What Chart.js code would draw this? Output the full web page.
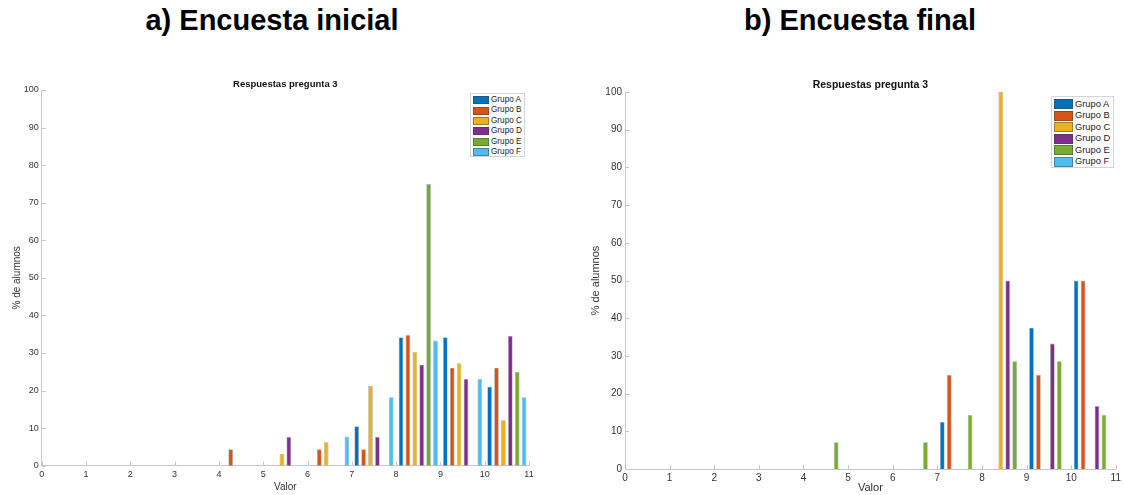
<!DOCTYPE html>
<html>
<head>
<meta charset="utf-8">
<script src="https://cdn.jsdelivr.net/npm/chart.js@4.4.1/dist/chart.umd.min.js"></script>
<style>
  html, body { margin:0; padding:0; background:#fff; }
  body { width:1124px; height:495px; position:relative; overflow:hidden; font-family:"Liberation Sans", Arial, sans-serif; }
  canvas { position:absolute; top:0; }
  .big { position:absolute; top:4px; font-weight:bold; font-size:29px; color:#000; text-align:center; white-space:nowrap; }
  .leg { position:absolute; background:#fff; border:1px solid #d4d4d4; box-sizing:border-box; color:#222; overflow:hidden; }
  .leg div { position:relative; white-space:nowrap; }
  .leg span { position:absolute; left:2px; box-sizing:border-box; border:1px solid rgba(60,60,60,0.45); }
</style>
</head>
<body>
<div class="big" style="left:122px;width:300px;">a) Encuesta inicial</div>
<div class="big" style="left:710px;width:300px;">b) Encuesta final</div>
<canvas id="chartInicial" width="560" height="495" style="left:0px"></canvas>
<canvas id="chartFinal" width="544" height="495" style="left:580px"></canvas>
<div id="legInicial" class="leg"></div>
<div id="legFinal" class="leg"></div>
<script>
// bins of the histogram (value 0..10), x tick labels 0..11
var bins = ['0','1','2','3','4','5','6','7','8','9','10'];
var xTickMax = 11;
var groupNames  = ['Grupo A','Grupo B','Grupo C','Grupo D','Grupo E','Grupo F'];
var groupColors = ['#0072BD','#D95319','#EDB120','#7E2F8E','#77AC30','#4DBEEE'];

// a) Encuesta inicial (% de alumnos)
var inicialA = [0,0,0,0,0,0,0,10.5,34.2,34.2,21.1];
var inicialB = [0,0,0,0,4.35,0,4.35,4.35,34.8,26.1,26.1];
var inicialC = [0,0,0,0,0,3.1,6.25,21.2,30.3,27.3,12.1];
var inicialD = [0,0,0,0,0,7.7,0,7.7,26.9,23.1,34.6];
var inicialE = [0,0,0,0,0,0,0,0,75,0,25];
var inicialF = [0,0,0,0,0,0,7.7,18.2,33.3,23.1,18.2];

// b) Encuesta final (% de alumnos)
var finalA = [0,0,0,0,0,0,0,12.5,0,37.5,50];
var finalB = [0,0,0,0,0,0,0,25,0,25,50];
var finalC = [0,0,0,0,0,0,0,0,100,0,0];
var finalD = [0,0,0,0,0,0,0,0,50,33.3,16.7];
var finalE = [0,0,0,0,7.1,0,7.1,14.3,28.6,28.6,14.3];
var finalF = [0,0,0,0,0,0,0,0,0,0,0];

(function(){
  var FONT = '"Liberation Sans", Arial, sans-serif';
  var AXIS = '#c6c6c6';

  // matlab look: inward ticks on left/bottom and a small bold title
  var matlabAxes = {
    id: 'matlabAxes',
    afterDraw: function(chart, args, o){
      var ctx = chart.ctx, a = chart.chartArea;
      var xs = chart.scales.x2, ys = chart.scales.y;
      ctx.save();
      ctx.strokeStyle = AXIS; ctx.lineWidth = 1;
      ctx.beginPath();
      xs.ticks.forEach(function(t){
        var px = Math.round(xs.getPixelForValue(t.value)) + 0.5;
        ctx.moveTo(px, a.bottom); ctx.lineTo(px, a.bottom - 4);
      });
      ys.ticks.forEach(function(t){
        var py = Math.round(ys.getPixelForValue(t.value)) + 0.5;
        ctx.moveTo(a.left, py); ctx.lineTo(a.left + 4, py);
      });
      ctx.stroke();
      ctx.fillStyle = '#111';
      ctx.font = 'bold ' + o.titleSize + 'px ' + FONT;
      ctx.textAlign = 'center'; ctx.textBaseline = 'middle';
      ctx.fillText(o.title, (a.left + a.right) / 2, o.titleY);
      ctx.restore();
    }
  };

  function makeChart(id, series, c){
    var datasets = [];
    for (var i=0;i<series.length;i++){
      datasets.push({
        label: groupNames[i], data: series[i],
        backgroundColor: groupColors[i],
        borderColor: 'rgba(70,70,70,0.45)', borderWidth: 0.7,
        categoryPercentage: 0.935, barPercentage: 0.68
      });
    }
    return new Chart(document.getElementById(id), {
      type: 'bar',
      data: { labels: bins, datasets: datasets },
      plugins: [matlabAxes],
      options: {
        responsive: false, animation: false, devicePixelRatio: 1,
        layout: { padding: { top: c.top, right: c.right, left: 0, bottom: 0 } },
        plugins: {
          legend: { display: false }, tooltip: { enabled: false },
          matlabAxes: { title: 'Respuestas pregunta 3', titleSize: c.titleSize, titleY: c.titleY }
        },
        scales: {
          x: { type: 'category', display: false, offset: true },
          x2: {
            type: 'linear', position: 'bottom', min: 0, max: xTickMax, offset: false,
            grid: { display: false, drawTicks: false, offset: false },
            border: { display: true, color: AXIS, width: 1 },
            ticks: { stepSize: 1, padding: 3, color: '#333', font: { family: FONT, size: c.tick } },
            title: { display: true, text: 'Valor', color: '#333', padding: { top: 0, bottom: c.xTitlePad },
                     font: { family: FONT, size: c.label } },
            afterFit: function(s){ s.height = c.xH; }
          },
          y: {
            min: 0, max: 100,
            grid: { display: false, drawTicks: false },
            border: { display: true, color: AXIS, width: 1 },
            ticks: { stepSize: 10, padding: 3, color: '#333', font: { family: FONT, size: c.tick } },
            title: { display: true, text: '% de alumnos', color: '#333', padding: { top: c.yTitlePad, bottom: 0 },
                     font: { family: FONT, size: c.label } },
            afterFit: function(s){ s.width = c.yW; }
          }
        }
      }
    });
  }

  function buildLegend(id, l){
    var box = document.getElementById(id);
    box.style.left = l.x + 'px'; box.style.top = l.y + 'px';
    box.style.width = l.w + 'px'; box.style.height = l.h + 'px';
    box.style.paddingTop = l.pt + 'px';
    box.style.fontSize = l.fs + 'px';
    for (var i=0;i<groupNames.length;i++){
      var d = document.createElement('div');
      d.style.height = l.row + 'px'; d.style.lineHeight = l.row + 'px';
      d.style.paddingLeft = (l.sw + 4) + 'px';
      var sw = document.createElement('span');
      sw.style.width = l.sw + 'px'; sw.style.height = l.sh + 'px';
      sw.style.top = ((l.row - l.sh) / 2) + 'px';
      sw.style.background = groupColors[i];
      d.appendChild(sw);
      d.appendChild(document.createTextNode(groupNames[i]));
      box.appendChild(d);
    }
  }

  makeChart('chartInicial', [inicialA, inicialB, inicialC, inicialD, inicialE, inicialF], {
    top: 90, right: 31, yW: 41.7, xH: 29.3, tick: 9, label: 10, titleSize: 9.5, titleY: 84,
    xTitlePad: 2, yTitlePad: 11
  });
  makeChart('chartFinal', [finalA, finalB, finalC, finalD, finalE, finalF], {
    top: 92, right: 7, yW: 45, xH: 26, tick: 10, label: 11, titleSize: 10.5, titleY: 85,
    xTitlePad: 0, yTitlePad: 9.5
  });

  buildLegend('legInicial', { x: 470, y: 93, w: 55, h: 64, pt: 1, fs: 8.2, row: 10.4, sw: 16, sh: 8 });
  buildLegend('legFinal',   { x: 1051, y: 96, w: 63, h: 72, pt: 1.5, fs: 9.3, row: 11.5, sw: 19, sh: 10 });
})();
</script>
</body>
</html>
